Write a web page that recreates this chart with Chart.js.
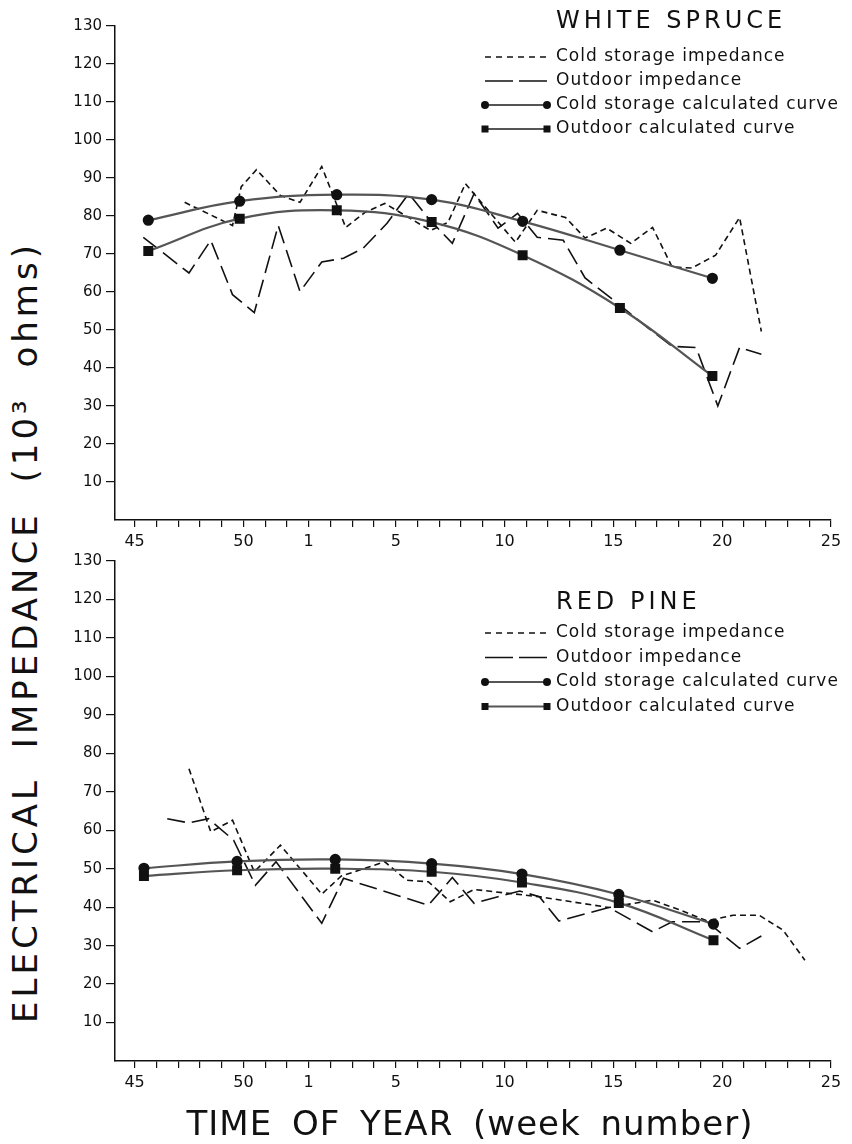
<!DOCTYPE html>
<html>
<head>
<meta charset="utf-8">
<script src="https://cdn.jsdelivr.net/npm/chart.js@4.4.1/dist/chart.umd.min.js"></script>
<style>
  html, body { margin: 0; padding: 0; background: #fff; }
  body { width: 852px; height: 1144px; position: relative; overflow: hidden; font-family: 'DejaVu Sans', sans-serif; color: #111; }
  canvas { position: absolute; left: 60px; }
  #topChart { top: 0; }
  #bottomChart { top: 530px; }
  #ytitle { position: absolute; left: 25px; top: 632px; transform: translate(-50%, -50%) rotate(-90deg);
            font-size: 34px; letter-spacing: 4px; word-spacing: 14px; white-space: nowrap; }
  #xtitle { position: absolute; left: 470px; top: 1123px; transform: translate(-50%, -50%);
            font-size: 34px; letter-spacing: 1px; word-spacing: 8px; white-space: nowrap; }
</style>
</head>
<body>
<canvas id="topChart" width="792" height="570"></canvas>
<canvas id="bottomChart" width="792" height="580"></canvas>
<div id="ytitle">ELECTRICAL IMPEDANCE (10³ ohms)</div>
<div id="xtitle">TIME OF YEAR (week number)</div>
<script>
// x positions are weeks counted from week 45 (45..52 -> 0..7, week 1 -> 8, week 25 -> 32)
const labelledWeeks = [45, 50, 1, 5, 10, 15, 20, 25];
const yTicks = [10, 20, 30, 40, 50, 60, 70, 80, 90, 100, 110, 120, 130];
const seriesNames = ['Cold storage impedance', 'Outdoor impedance', 'Cold storage calculated curve', 'Outdoor calculated curve'];

// WHITE SPRUCE
const spruceColdX = [2.3, 4.5, 4.9, 5.6, 6.7, 7.6, 8.6, 9.7, 10.6, 11.5, 13.6, 14.4, 15.2, 17.5, 18.5, 19.8, 20.7, 21.7, 22.8, 23.8, 24.7, 25.6, 26.7, 27.8, 28.8];
const spruceColdY = [83.6, 77.5, 87.7, 92.2, 85.4, 83.6, 93.0, 77.0, 81.0, 83.3, 76.2, 78.3, 88.5, 73.1, 81.5, 79.6, 74.2, 76.8, 72.8, 77.0, 66.6, 66.3, 69.7, 79.6, 49.6];
const spruceOutX = [0.4, 2.5, 3.5, 4.5, 5.5, 6.6, 7.6, 8.6, 9.6, 10.5, 11.6, 12.6, 13.5, 14.6, 15.6, 16.7, 17.6, 18.5, 19.7, 20.7, 22.2, 23.6, 24.7, 25.8, 26.8, 27.8, 28.8];
const spruceOutY = [74.4, 65.0, 73.6, 59.3, 54.6, 77.5, 60.1, 67.9, 68.9, 71.5, 78.1, 85.9, 79.4, 72.8, 85.9, 76.8, 80.7, 74.4, 73.6, 63.7, 57.0, 50.5, 45.7, 45.4, 30.0, 45.4, 43.6];
const spruceCalcX = [0.63, 4.83, 9.29, 13.65, 17.83, 22.3, 26.55];
const spruceColdCalc = [78.9, 83.9, 85.6, 84.3, 78.6, 71.0, 63.6];
const spruceOutCalc = [70.8, 79.3, 81.5, 78.4, 69.7, 55.8, 37.9];

// RED PINE
const pineColdX = [2.5, 3.5, 4.5, 5.5, 6.7, 8.6, 9.5, 11.5, 12.5, 13.5, 14.5, 15.6, 18.6, 21.8, 23.8, 25.0, 26.3, 27.5, 28.7, 29.8, 30.8];
const pineColdY = [76.0, 59.6, 62.6, 49.2, 56.1, 43.4, 48.1, 51.8, 47.0, 46.6, 41.4, 44.6, 42.7, 39.9, 41.8, 39.4, 36.4, 37.9, 37.9, 34.0, 26.2];
const pineOutX = [1.5, 2.5, 3.4, 4.55, 5.55, 6.5, 8.6, 9.6, 13.5, 14.6, 15.6, 16.7, 17.7, 18.6, 19.5, 21.8, 23.8, 24.7, 26.3, 27.8, 28.8];
const pineOutY = [63.0, 61.9, 63.0, 57.4, 45.7, 51.8, 35.8, 47.5, 40.5, 47.7, 41.0, 42.7, 44.2, 42.7, 36.4, 39.9, 33.6, 36.2, 36.2, 29.3, 32.5];
const pineCalcX = [0.43, 4.71, 9.22, 13.65, 17.8, 22.25, 26.6];
const pineColdCalc = [50.1, 51.9, 52.4, 51.3, 48.6, 43.3, 35.6];
const pineOutCalc = [48.1, 49.6, 50.0, 49.2, 46.4, 41.1, 31.4];

const FONT = "'DejaVu Sans', sans-serif";
const INK = '#111';

function weekOf(i) { return i < 8 ? 45 + i : i - 7; }
function pts(xs, ys) { return xs.map((x, i) => ({ x: x, y: ys[i] })); }

// draws title + 4 legend rows inside the plot area
const paneLegend = {
  id: 'paneLegend',
  afterDatasetsDraw(chart, args, o) {
    const ctx = chart.ctx, ca = chart.chartArea;
    const x0 = ca.left + 370, x1 = x0 + 62, xt = x0 + 71;
    ctx.save();
    ctx.fillStyle = INK;
    ctx.textBaseline = 'middle';
    ctx.font = '24px ' + FONT;
    ctx.letterSpacing = '4px';
    ctx.fillText(o.title, xt, ca.top + o.titleY);
    ctx.font = '17px ' + FONT;
    ctx.letterSpacing = '1px';
    chart.data.datasets.forEach((ds, i) => {
      const y = ca.top + o.rowY + i * o.rowStep;
      ctx.strokeStyle = ds.borderColor;
      ctx.lineWidth = ds.borderWidth;
      ctx.setLineDash(ds.legendDash || []);
      ctx.beginPath(); ctx.moveTo(x0, y); ctx.lineTo(x1, y); ctx.stroke();
      ctx.setLineDash([]);
      ctx.fillStyle = INK;
      if (ds.pointStyle === 'circle' && ds.pointRadius > 0) {
        [x0, x1].forEach(px => { ctx.beginPath(); ctx.arc(px, y, 4, 0, Math.PI * 2); ctx.fill(); });
      } else if (ds.pointStyle === 'rect' && ds.pointRadius > 0) {
        [x0, x1].forEach(px => ctx.fillRect(px - 3.5, y - 3.5, 7, 7));
      }
      ctx.fillText(ds.label, xt, y);
    });
    ctx.restore();
  }
};

function makePanel(id, coldPts, outPts, coldCalcPts, outCalcPts, legend, pad) {
  return new Chart(document.getElementById(id), {
    type: 'line',
    data: {
      datasets: [
        { label: seriesNames[0], data: coldPts, borderColor: INK, borderWidth: 1.6, borderDash: [6, 4], legendDash: [6, 5],
          pointRadius: 0, tension: 0, order: 2 },
        { label: seriesNames[1], data: outPts, borderColor: INK, borderWidth: 1.6, borderDash: [18, 7], legendDash: [28, 6],
          pointRadius: 0, tension: 0, order: 3 },
        { label: seriesNames[2], data: coldCalcPts, borderColor: '#555', borderWidth: 2.2, tension: 0.4,
          pointStyle: 'circle', pointRadius: 4.5, pointBackgroundColor: INK, pointBorderColor: INK, order: 1 },
        { label: seriesNames[3], data: outCalcPts, borderColor: '#555', borderWidth: 2.2, tension: 0.4,
          pointStyle: 'rect', pointRadius: 5.5, pointBackgroundColor: INK, pointBorderColor: INK, order: 0 }
      ]
    },
    options: {
      responsive: false,
      animation: false,
      layout: { padding: pad },
      plugins: { legend: { display: false }, tooltip: { enabled: false }, paneLegend: legend },
      scales: {
        x: {
          type: 'linear', min: -0.9, max: 32,
          afterBuildTicks: s => { s.ticks = Array.from({ length: 33 }, (_, i) => ({ value: i })); },
          afterFit: s => { s.height = 44; },
          grid: { drawOnChartArea: false, drawTicks: true, tickLength: 7, color: INK, lineWidth: 1.2 },
          border: { display: true, color: INK, width: 1.5 },
          ticks: {
            autoSkip: false, maxRotation: 0, padding: 5, color: INK, font: { family: FONT, size: 16 },
            callback: v => labelledWeeks.includes(weekOf(v)) ? String(weekOf(v)) : ''
          }
        },
        y: {
          min: 0, max: 130,
          afterBuildTicks: s => { s.ticks = yTicks.map(v => ({ value: v })); },
          afterFit: s => { s.width = 55; },
          grid: { drawOnChartArea: false, drawTicks: true, tickLength: 9, color: INK, lineWidth: 1.2 },
          border: { display: true, color: INK, width: 1.5 },
          ticks: { padding: 4, color: INK, font: { family: FONT, size: 15 } }
        }
      }
    },
    plugins: [paneLegend]
  });
}

makePanel('topChart',
  pts(spruceColdX, spruceColdY), pts(spruceOutX, spruceOutY),
  pts(spruceCalcX, spruceColdCalc), pts(spruceCalcX, spruceOutCalc),
  { title: 'WHITE SPRUCE', titleY: -4, rowY: 31, rowStep: 24 },
  { top: 26, right: 21, bottom: 6, left: 0 });

makePanel('bottomChart',
  pts(pineColdX, pineColdY), pts(pineOutX, pineOutY),
  pts(pineCalcX, pineColdCalc), pts(pineCalcX, pineOutCalc),
  { title: 'RED PINE', titleY: 42, rowY: 72, rowStep: 24.5 },
  { top: 31, right: 21, bottom: 5, left: 0 });
</script>
</body>
</html>
